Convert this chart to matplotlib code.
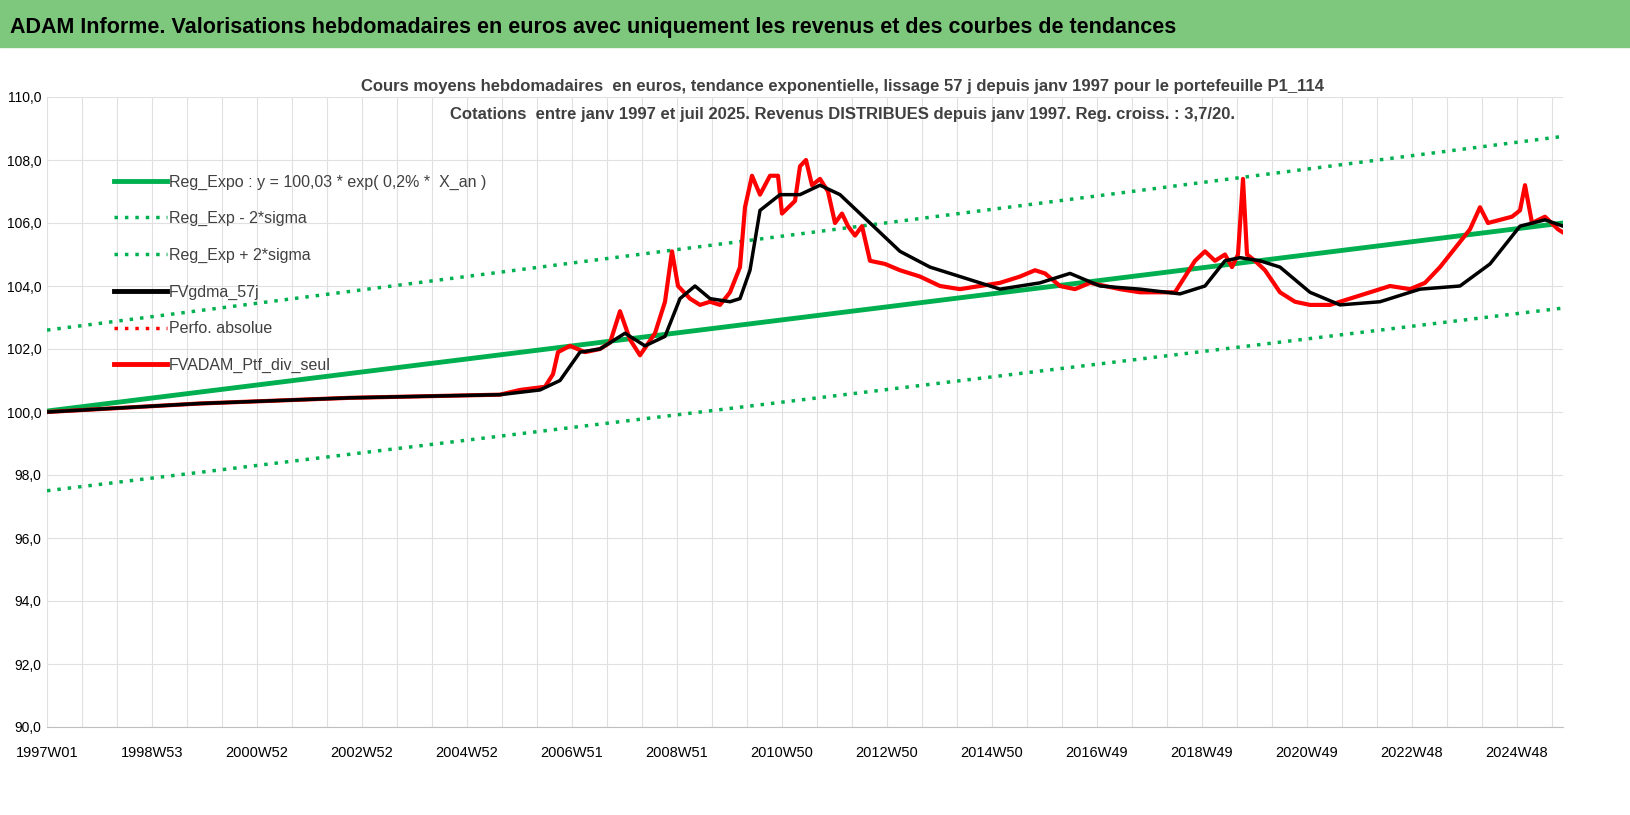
import matplotlib
matplotlib.use("Agg")
import matplotlib.pyplot as plt
from matplotlib.lines import Line2D

plt.rcParams['font.family'] = ['Liberation Sans', 'DejaVu Sans']

tick_labels = ["1997W01", "1998W53", "2000W52", "2002W52", "2004W52", "2006W51", "2008W51",
               "2010W50", "2012W50", "2014W50", "2016W49", "2018W49", "2020W49", "2022W48", "2024W48"]

# week index (approx.) and values of FVADAM_Ptf_div_seul
red_w = [0, 153, 303, 453, 473, 498, 506, 511, 523, 538, 553, 563, 573, 583, 593, 608, 618, 625, 631,
         643, 653, 663, 673, 683, 693, 698, 705, 713, 723, 731, 735, 748, 753, 759, 765, 773, 781, 788,
         795, 801, 808, 815, 823, 838, 853, 873, 893, 913, 933, 953, 973, 988, 998, 1013, 1028, 1043,
         1058, 1073, 1093, 1113, 1128, 1138, 1148, 1158, 1168, 1178, 1185, 1191, 1196, 1200, 1208, 1218,
         1233, 1248, 1263, 1283, 1303, 1323, 1343, 1363, 1378, 1393, 1408, 1423, 1433, 1441, 1453,
         1465, 1473, 1478, 1485, 1498, 1511, 1516]
red_v = [100.0, 100.27, 100.45, 100.55, 100.7, 100.8, 101.2, 101.9, 102.1, 101.9, 102.0, 102.2, 103.2,
         102.3, 101.8, 102.5, 103.5, 105.1, 104.0, 103.6, 103.4, 103.5, 103.4, 103.8, 104.6, 106.5,
         107.5, 106.9, 107.5, 107.5, 106.3, 106.7, 107.8, 108.0, 107.2, 107.4, 107.0, 106.0, 106.3,
         105.9, 105.6, 105.9, 104.8, 104.7, 104.5, 104.3, 104.0, 103.9, 104.0, 104.1, 104.3, 104.5,
         104.4, 104.0, 103.9, 104.1, 104.0, 103.9, 103.8, 103.8, 103.8, 104.3, 104.8, 105.1, 104.8,
         105.0, 104.6, 105.0, 107.4, 105.0, 104.8, 104.5, 103.8, 103.5, 103.4, 103.4, 103.6, 103.8,
         104.0, 103.9, 104.1, 104.6, 105.2, 105.8, 106.5, 106.0, 106.1, 106.2, 106.4, 107.2, 106.0,
         106.2, 105.8, 105.7]

# FVgdma_57j smoothed
blk_w = [0, 153, 303, 453, 493, 513, 533, 553, 578, 598, 618, 633, 648, 663, 683, 693, 703, 713, 733,
         753, 773, 793, 813, 833, 853, 883, 913, 953, 993, 1023, 1053, 1093, 1133, 1158, 1178, 1193,
         1213, 1233, 1263, 1293, 1333, 1373, 1413, 1443, 1473, 1498, 1516]
blk_v = [100.0, 100.27, 100.45, 100.55, 100.7, 101.0, 101.9, 102.0, 102.5, 102.1, 102.4, 103.6, 104.0,
         103.6, 103.5, 103.6, 104.5, 106.4, 106.9, 106.9, 107.2, 106.9, 106.3, 105.7, 105.1, 104.6,
         104.3, 103.9, 104.1, 104.4, 104.0, 103.9, 103.75, 104.0, 104.8, 104.9, 104.8, 104.6, 103.8,
         103.4, 103.5, 103.9, 104.0, 104.7, 105.9, 106.1, 105.9]

trend_w = [0, 1516]
trend_v = [100.03, 106.0]
low_v = [97.5, 103.3]
up_v = [102.6, 108.75]

W, H = 1630, 815
fig = plt.figure(figsize=(W/100, H/100), dpi=100)
fig.patches.append(plt.Rectangle((0, 1-47/H), 1, 47/H, transform=fig.transFigure, color='#7EC87E', zorder=0))
fig.text(10/W, 1-28/H, "ADAM Informe. Valorisations hebdomadaires en euros avec uniquement les revenus et des courbes de tendances",
         fontsize=15.5, fontweight='bold', va='center', ha='left')

ax = fig.add_axes([47/W, 1-727/H, (1563-47)/W, (727-97)/H])
green = '#00B050'
ax.plot(trend_w, low_v, color=green, lw=2.5, ls=(0, (1, 2)))
ax.plot(trend_w, up_v, color=green, lw=2.5, ls=(0, (1, 2)))
ax.plot(trend_w, trend_v, color=green, lw=3.5)
ax.plot(red_w, red_v, color='#FF0000', lw=3)
ax.plot(blk_w, blk_v, color='black', lw=2.5)

ax.set_ylim(90, 110)
ax.set_xlim(0, 1516)
ax.set_yticks([90 + 2*i for i in range(11)])
ax.set_yticklabels([f"{90+2*i:.1f}".replace('.', ',') for i in range(11)], fontsize=10)
ax.set_xticks([105*i for i in range(len(tick_labels))])
ax.set_xticklabels(tick_labels, fontsize=10.5)
ax.set_xticks([35*i for i in range(44)], minor=True)
ax.tick_params(which='both', length=0)
ax.tick_params(axis='x', pad=14)
ax.tick_params(axis='y', pad=4)
ax.grid(True, which='both', axis='x', color='#E0E0E0', lw=0.8)
ax.grid(True, which='major', axis='y', color='#E0E0E0', lw=0.8)
ax.set_axisbelow(True)
for s in ['top', 'right', 'left']:
    ax.spines[s].set_visible(False)
ax.spines['bottom'].set_color('#BFBFBF')

fig.text(0.517, 1-87/H, "Cours moyens hebdomadaires  en euros, tendance exponentielle, lissage 57 j depuis janv 1997 pour le portefeuille P1_114",
         ha='center', va='center', fontsize=12, fontweight='bold', color='#404040')
fig.text(0.517, 1-114/H, "Cotations  entre janv 1997 et juil 2025. Revenus DISTRIBUES depuis janv 1997. Reg. croiss. : 3,7/20.",
         ha='center', va='center', fontsize=12, fontweight='bold', color='#404040')

handles = [Line2D([], [], color=green, lw=3.5),
           Line2D([], [], color=green, lw=2.5, ls=(0, (1, 2))),
           Line2D([], [], color=green, lw=2.5, ls=(0, (1, 2))),
           Line2D([], [], color='black', lw=3.5),
           Line2D([], [], color='#FF0000', lw=2.5, ls=(0, (1, 2))),
           Line2D([], [], color='#FF0000', lw=3.5)]
labels = ["Reg_Expo : y = 100,03 * exp( 0,2% *  X_an )", "Reg_Exp - 2*sigma", "Reg_Exp + 2*sigma",
          "FVgdma_57j", "Perfo. absolue", "FVADAM_Ptf_div_seul"]
ax.legend(handles, labels, loc='upper left', bbox_to_anchor=(0.035, 0.9), frameon=False,
          fontsize=11.5, labelspacing=1.35, handlelength=3.3, handletextpad=0.1, labelcolor='#404040')

fig.savefig("out.png", dpi=100)
